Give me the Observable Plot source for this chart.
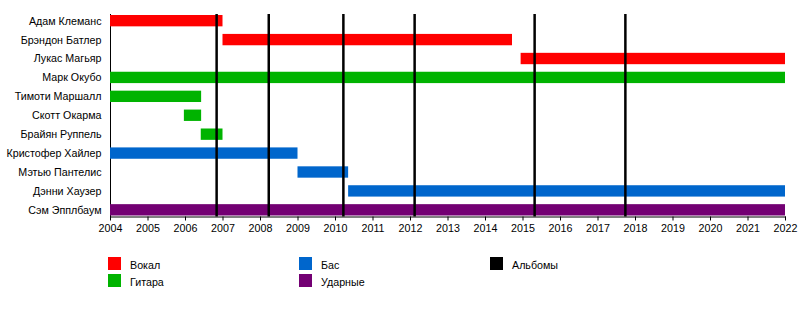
<!DOCTYPE html>
<html>
<head>
<meta charset="utf-8">
<script src="https://cdn.jsdelivr.net/npm/d3@7"></script>
<script src="https://cdn.jsdelivr.net/npm/@observablehq/plot@0.6"></script>
<style>
  body { margin: 0; background: #fff; font-family: "Liberation Sans", Arial, sans-serif; }
  #wrap { position: relative; width: 800px; height: 335px; }
  #chart { position: absolute; left: 0; top: 0; }
  .lg { position: absolute; font-size: 10.7px; color: #000; }
  .sw { position: absolute; width: 13px; height: 13px; }
</style>
</head>
<body>
<div id="wrap"><div id="chart"></div></div>
<script>
const members = ["Адам Клеманс","Брэндон Батлер","Лукас Магьяр","Марк Окубо","Тимоти Маршалл","Скотт Окарма","Брайян Руппель","Кристофер Хайлер","Мэтью Пантелис","Дэнни Хаузер","Сэм Эпплбаум"];
const starts = [2004, 2007.0, 2014.95, 2004, 2004, 2005.97, 2006.42, 2004, 2009.0, 2010.35, 2004];
const ends   = [2007.0, 2014.72, 2022, 2022, 2006.43, 2006.43, 2007.0, 2009.0, 2010.35, 2022, 2022];
const roles  = ["Вокал","Вокал","Вокал","Гитара","Гитара","Гитара","Гитара","Бас","Бас","Бас","Ударные"];
const albums = [2006.83, 2008.22, 2010.21, 2012.11, 2015.31, 2017.73];
const roleNames  = ["Вокал","Гитара","Бас","Ударные","Альбомы"];
const roleColors = ["#FF0000","#00B300","#0066CC","#730073","#000000"];
const years = d3.range(2004, 2023);

const rows = members.map((m, i) => ({member: m, start: starts[i], end: ends[i], role: roles[i]}));

const chart = Plot.plot({
  width: 800,
  height: 240,
  marginLeft: 110,
  marginRight: 15,
  marginTop: 14,
  marginBottom: 23.5,
  style: {fontFamily: "'Liberation Sans', Arial, sans-serif", fontSize: "10.7px", background: "white"},
  x: {domain: [2004, 2022], ticks: years, tickFormat: d => String(d), tickSize: 4, tickPadding: 3, label: null, line: true},
  y: {domain: members, range: [15, 215.5], round: false, paddingInner: 0.4, paddingOuter: 0, tickSize: 0, tickPadding: 9, label: null, line: true},
  color: {domain: roleNames, range: roleColors},
  marks: [
    Plot.barX(rows, {y: "member", x1: "start", x2: "end", fill: "role"}),
    Plot.ruleX(albums, {x: d => d, stroke: "#000", strokeWidth: 2.5})
  ]
});
document.getElementById("chart").appendChild(chart);

// legend
const wrap = document.getElementById("wrap");
const colX = [108, 299, 490];
roleNames.forEach((name, i) => {
  const col = Math.floor(i / 2), row = i % 2;
  const x = colX[col], y = 257 + row * 17;
  const sw = document.createElement("div");
  sw.className = "sw";
  sw.style.left = x + "px"; sw.style.top = y + "px";
  sw.style.background = roleColors[i];
  wrap.appendChild(sw);
  const t = document.createElement("div");
  t.className = "lg";
  t.style.left = (x + 22) + "px"; t.style.top = (y + 1) + "px";
  t.style.lineHeight = "14px";
  t.textContent = name;
  wrap.appendChild(t);
});
</script>
</body>
</html>
